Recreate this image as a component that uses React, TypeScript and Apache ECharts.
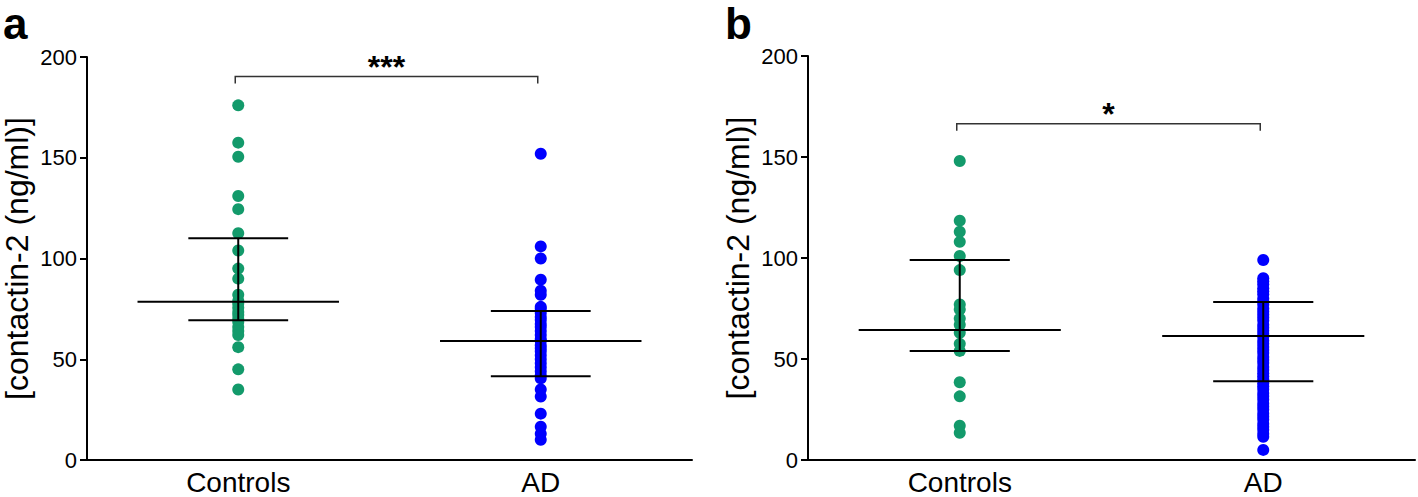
import React, { useEffect, useRef } from 'react';
import * as echarts from 'echarts';

const categories = ['Controls', 'AD'];
const yMin = 0;
const yMax = 200;
const yInterval = 50;

const controlsA = [176, 157.5, 150.5, 131, 124.5, 112.5, 104, 95, 90, 82, 79, 77.5, 75.5, 73.5, 72, 70, 68.5, 66, 64, 62, 56, 45, 35];
const adA = [152, 106, 100, 89.5, 84, 82, 76, 75, 73, 71, 69.5, 67.5, 66, 64, 62, 60, 59, 57, 55.5, 54, 52, 50, 48, 46, 44, 42, 40.5, 35, 31.5, 23, 16.5, 13, 10];
const controlsB = [148, 118.5, 113, 108, 101, 94, 77, 74.5, 70, 67, 63, 57.5, 54, 38.5, 31.5, 17, 13.5];
const adB = [99, 90, 88.5, 87, 85, 83.5, 82, 80, 78.5, 77, 75, 73.5, 72, 70.5, 69, 67, 65.5, 64, 62.5, 61, 59, 57.5, 56, 54.5, 53, 51, 49.5, 48, 46, 44.5, 43, 41.5, 40, 38, 36.5, 35, 33, 31.5, 30, 28, 26.5, 25, 23, 21.5, 20, 18, 16.5, 15, 13, 11.5, 5];

const medianA = [78.5, 59];
const q1A = [69.3, 41.6];
const q3A = [110, 74];
const medianB = [64.4, 61.4];
const q1B = [54, 39];
const q3B = [99, 78.2];

const sigLabels = ['***', '*'];
const sigLevels = [190.3, 166.5];
const panelLetters = ['a', 'b'];

const GREEN = '#139a6b';
const BLUE = '#0000ff';
const FONT = '"Liberation Sans", Arial, Helvetica, sans-serif';

function errorBarRender(params: any, api: any) {
  const x = api.value(0);
  const pm = api.coord([x, api.value(1)]);
  const pl = api.coord([x, api.value(2)]);
  const ph = api.coord([x, api.value(3)]);
  const band = api.size([1, 0])[0];
  const mw = band * 0.333;
  const ww = band * 0.165;
  const style = { stroke: '#000', lineWidth: 2 };
  return {
    type: 'group',
    children: [
      { type: 'line', shape: { x1: pm[0] - mw, y1: pm[1], x2: pm[0] + mw, y2: pm[1] }, style },
      { type: 'line', shape: { x1: pl[0] - ww, y1: pl[1], x2: pl[0] + ww, y2: pl[1] }, style },
      { type: 'line', shape: { x1: ph[0] - ww, y1: ph[1], x2: ph[0] + ww, y2: ph[1] }, style },
      { type: 'line', shape: { x1: pl[0], y1: pl[1], x2: ph[0], y2: ph[1] }, style },
    ],
  };
}

function bracketRender(label: string) {
  return (params: any, api: any) => {
    const p0 = api.coord([api.value(0), api.value(2)]);
    const p1 = api.coord([api.value(1), api.value(2)]);
    const tick = 7;
    return {
      type: 'group',
      children: [
        {
          type: 'polyline',
          shape: { points: [[p0[0] - 3, p0[1] + tick], [p0[0] - 3, p0[1]], [p1[0] - 3, p1[1]], [p1[0] - 3, p1[1] + tick]] },
          style: { stroke: '#333', lineWidth: 1.5, fill: null },
        },
        {
          type: 'text',
          x: (p0[0] + p1[0]) / 2 - 3,
          y: p0[1] - 10,
          style: { text: label, fontSize: 32, fontWeight: 'bold', fontFamily: FONT, align: 'center', verticalAlign: 'middle', fill: '#000' },
        },
      ],
    };
  };
}

export default function App() {
  const ref = useRef<HTMLDivElement>(null);
  useEffect(() => {
    if (!ref.current) return;
    const chart = echarts.init(ref.current, undefined, { renderer: 'svg' });
    const panels = [
      { controls: controlsA, ad: adA, med: medianA, q1: q1A, q3: q3A, left: 85, top: 57, height: 403 },
      { controls: controlsB, ad: adB, med: medianB, q1: q1B, q3: q3B, left: 808, top: 56, height: 404 },
    ];
    const grid: any[] = [];
    const xAxis: any[] = [];
    const yAxis: any[] = [];
    const series: any[] = [];
    panels.forEach((p, i) => {
      grid.push({ left: p.left, top: p.top, width: 607, height: p.height, containLabel: false });
      xAxis.push({
        type: 'category',
        gridIndex: i,
        data: categories,
        boundaryGap: true,
        axisLine: { lineStyle: { color: '#000', width: 2 } },
        axisTick: { alignWithLabel: true, length: 7, lineStyle: { color: '#000', width: 2 } },
        axisLabel: { color: '#000', fontSize: 28, fontFamily: FONT, margin: 8 },
        splitLine: { show: false },
      });
      yAxis.push({
        type: 'value',
        gridIndex: i,
        min: yMin,
        max: yMax,
        interval: yInterval,
        name: '[contactin-2 (ng/ml)]',
        nameLocation: 'middle',
        nameRotate: 90,
        nameGap: 54,
        nameTextStyle: { color: '#000', fontSize: 32, fontFamily: FONT },
        axisLine: { show: true, lineStyle: { color: '#000', width: 2 } },
        axisTick: { show: true, length: 7, lineStyle: { color: '#000', width: 2 } },
        axisLabel: { color: '#000', fontSize: 22, fontFamily: FONT, margin: 10 },
        splitLine: { show: false },
      });
      series.push({
        type: 'scatter',
        xAxisIndex: i,
        yAxisIndex: i,
        symbolSize: 12,
        itemStyle: { color: GREEN, opacity: 1 },
        data: p.controls.map((v) => [0, v]),
        z: 2,
      });
      series.push({
        type: 'scatter',
        xAxisIndex: i,
        yAxisIndex: i,
        symbolSize: 12,
        itemStyle: { color: BLUE, opacity: 1 },
        data: p.ad.map((v) => [1, v]),
        z: 2,
      });
      series.push({
        type: 'custom',
        xAxisIndex: i,
        yAxisIndex: i,
        renderItem: errorBarRender,
        encode: { x: 0, y: [1, 2, 3] },
        data: categories.map((_, k) => [k, p.med[k], p.q1[k], p.q3[k]]),
        z: 5,
        clip: false,
      });
      series.push({
        type: 'custom',
        xAxisIndex: i,
        yAxisIndex: i,
        renderItem: bracketRender(sigLabels[i]),
        encode: { x: [0, 1], y: 2 },
        data: [[0, 1, sigLevels[i]]],
        z: 5,
        clip: false,
      });
    });
    chart.setOption({
      animation: false,
      backgroundColor: '#fff',
      grid,
      xAxis,
      yAxis,
      series,
      graphic: panelLetters.map((l, i) => ({
        type: 'text',
        left: i === 0 ? 3 : 725,
        top: 1.5,
        style: { text: l, fontSize: 44, lineHeight: 44, fontWeight: 'bold', fontFamily: FONT, fill: '#000' },
      })),
    });
    return () => chart.dispose();
  }, []);
  return <div ref={ref} style={{ position: 'fixed', left: 0, top: 0, width: 1418, height: 497 }} />;
}
